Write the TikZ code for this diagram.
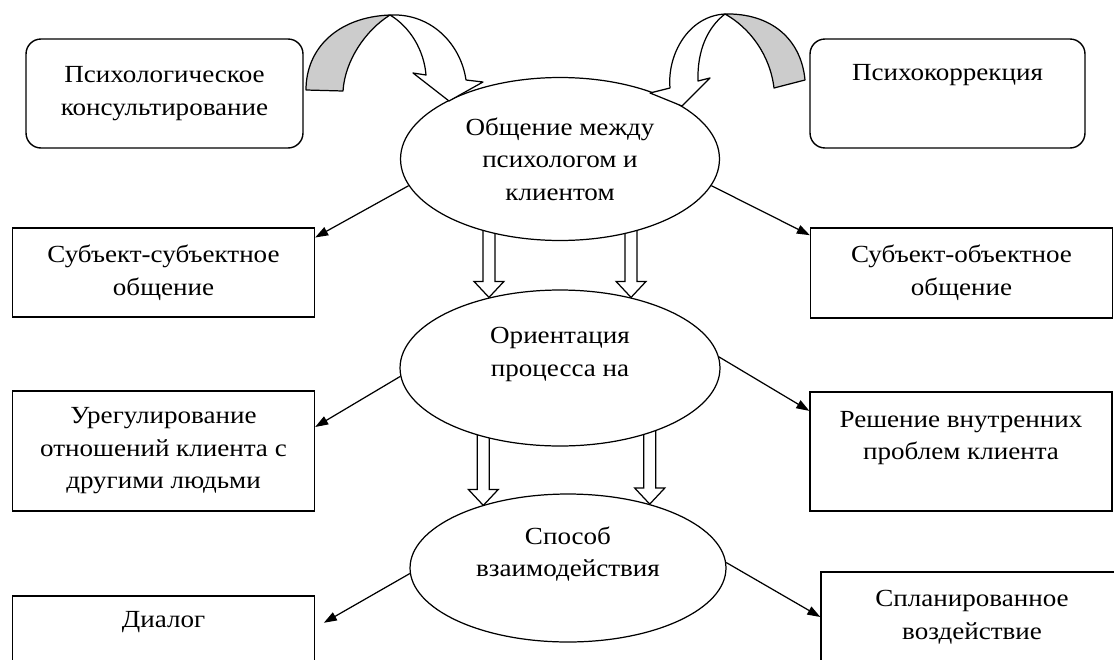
\documentclass[tikz,border=0pt]{standalone}
\usepackage{fontspec}
\setmainfont{Liberation Serif}[FakeStretch=1.1]
\usepackage{tikz}
\usetikzlibrary{arrows.meta,shapes.geometric,calc,backgrounds}

\begin{document}
\begin{tikzpicture}[
    x=0.02cm, y=-0.02cm,
    txt/.style={font=\fontsize{14}{18.5}\selectfont, align=center},
    rbox/.style={txt, draw=black, line width=0.8pt, rounded corners=8.5pt, minimum width=5.54cm, minimum height=2.18cm},
    box/.style={txt, draw=black, fill=white, line width=0.8pt, minimum width=6.04cm},
    oval/.style={txt, ellipse, draw=black, fill=white, line width=0.7pt, inner sep=0pt},
    arrow/.style={-{Triangle[length=2.6mm,width=1.8mm]}, line width=0.7pt},
    hollow/.style={draw=black, fill=white, line width=0.7pt, to path={($(\tikztostart)+(-6,-4)$) -- ($(\tikztostart |- \tikztotarget)+(-6,-16)$) -- ($(\tikztostart |- \tikztotarget)+(-15,-16)$) -- (\tikztostart |- \tikztotarget) -- ($(\tikztostart |- \tikztotarget)+(15,-16)$) -- ($(\tikztostart |- \tikztotarget)+(6,-16)$) -- ($(\tikztostart)+(6,-4)$)}},
    bent/.style={draw=black, line width=0.7pt, line join=round}
]
\useasboundingbox (0,0) rectangle (1114,659);
\clip (0,0) rectangle (1114,659);

% top row
\node[rbox] (konsult) at (164.5,93.5) {Психологическое\\консультирование};
\node[rbox, minimum width=5.5cm] (korr) at (947.5,93.5) {Психокоррекция\\\strut};
\node[oval, minimum width=6.38cm, minimum height=3.26cm] (obsh) at (560,159) {Общение между\\психологом и\\клиентом};

% second row
\node[box, minimum height=1.78cm] (subj) at (163.5,272.5) {Субъект-субъектное\\общение};
\node[box, minimum height=1.8cm] (sobj) at (961.5,273) {Субъект-объектное\\общение};
\node[oval, minimum width=6.4cm, minimum height=3.12cm] (orient) at (560,368) {Ориентация\\процесса на\\\mbox{}};

% third row
\node[box, minimum height=2.4cm] (regul) at (163.5,451) {Урегулирование\\отношений клиента с\\другими людьми};
\node[box, minimum height=2.38cm] (reshen) at (961,451.5) {Решение внутренних\\проблем клиента\\\mbox{}};
\node[oval, minimum width=6.32cm, minimum height=2.96cm] (sposob) at (568,568) {Способ\\взаимодействия\\\mbox{}};

% bottom row
\node[box, minimum height=1.8cm] (dialog) at (163.5,641) {Диалог\\\strut};
\node[box, minimum height=1.8cm] (plan) at (972,617) {Спланированное\\воздействие};

% curved arrows
\filldraw[bent, fill=gray!40] (306,90) .. controls (306,48) and (338,17) .. (390,15) .. controls (366,30) and (345,60) .. (343,91) -- cycle;
\filldraw[bent, fill=white] (390,15) .. controls (432,13) and (461,45) .. (466,80) -- (483,82) -- (449,101) -- (413,73) -- (426,75) .. controls (424,50) and (410,27) .. (390,15) -- cycle;
\filldraw[bent, fill=gray!40] (805,80) .. controls (801,38) and (770,13) .. (725,14) .. controls (750,28) and (770,55) .. (774,88) -- cycle;
\filldraw[bent, fill=white] (725,14) .. controls (688,16) and (667,55) .. (670,88) -- (650,93) -- (682,106) -- (710,78) -- (698,81) .. controls (697,50) and (708,27) .. (725,14) -- cycle;

% thin arrows
\draw[arrow] (obsh.190) -- (subj.13);
\draw[arrow] (obsh.350) -- (sobj.166);
\draw[arrow] (orient.183) -- (regul.9);
\draw[arrow] (orient.4) -- (reshen.165);
\draw[arrow, shorten >=0.2cm] (sposob.182) -- (dialog.5);
\draw[arrow] (sposob.2) -- (plan.west);

% hollow arrows
\begin{scope}[on background layer]
\fill[white] (0,0) rectangle (1114,659);
\draw[hollow] (obsh.226) to (orient.135);
\draw[hollow] (obsh.314) to (orient.45);
\draw[hollow] (orient.222) to (sposob.144);
\draw[hollow] (orient.324) to (sposob.38);
\end{scope}
\end{tikzpicture}
\end{document}
